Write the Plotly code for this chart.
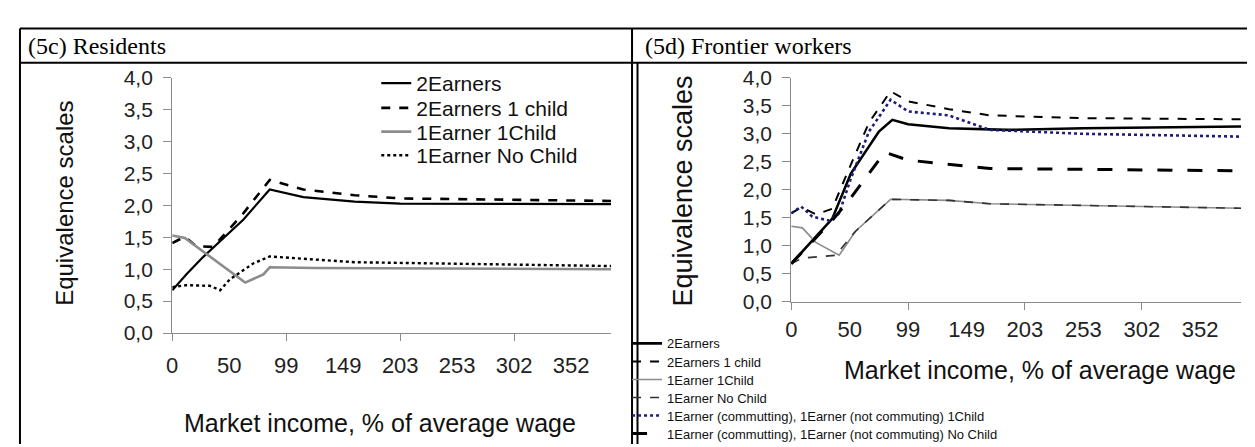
import plotly.graph_objects as go

W, H = 1255, 447

# category axis: step index along the income grid, labels every 10 steps
tick_pos = [0, 10, 20, 30, 40, 50, 60, 70]
tick_txt = ["0", "50", "99", "149", "203", "253", "302", "352"]

# (5c) Residents
res_2e_x = [0, 2.5, 5.4, 8.4, 12.5, 17.1, 23, 32, 40, 77]
res_2e_y = [0.67, 0.92, 1.19, 1.44, 1.78, 2.25, 2.13, 2.06, 2.03, 2.02]
res_2e1c_x = [0, 2.2, 4.2, 7.2, 9, 12.5, 17.1, 23, 32, 40, 77]
res_2e1c_y = [1.41, 1.51, 1.36, 1.35, 1.53, 1.88, 2.40, 2.25, 2.16, 2.11, 2.07]
res_1e1c_x = [0, 2.2, 12.8, 14.5, 16, 17.1, 25, 77]
res_1e1c_y = [1.53, 1.49, 0.79, 0.86, 0.92, 1.03, 1.02, 1.00]
res_1enc_x = [0, 2.5, 6.6, 8.4, 10.1, 14.2, 17.1, 32, 77]
res_1enc_y = [0.72, 0.75, 0.74, 0.67, 0.84, 1.09, 1.20, 1.11, 1.05]

# (5d) Frontier workers
fw_2e_x = [0, 3.5, 7, 10.2, 15, 17.3, 20, 27, 37, 50, 77]
fw_2e_y = [0.68, 1.08, 1.48, 2.29, 3.04, 3.25, 3.17, 3.10, 3.07, 3.10, 3.13]
fw_2e1c_x = [0, 1.7, 4.2, 7, 10.2, 13.3, 17, 20, 27, 34, 50, 77]
fw_2e1c_y = [1.58, 1.69, 1.56, 1.66, 2.45, 3.20, 3.76, 3.58, 3.44, 3.33, 3.28, 3.26]
fw_1e1c_x = [0, 1.9, 4.2, 6.5, 8.2, 11, 17, 27, 34, 77]
fw_1e1c_y = [1.35, 1.32, 1.06, 0.92, 0.83, 1.26, 1.83, 1.81, 1.75, 1.67]
fw_1enc_x = [0, 1.9, 7.6, 11, 17, 27, 34, 77]
fw_1enc_y = [0.68, 0.78, 0.83, 1.26, 1.83, 1.81, 1.75, 1.67]
fw_c1c_x = [0, 1.7, 3.6, 6.5, 8.2, 10.2, 13.3, 17, 20, 27, 34, 50, 77]
fw_c1c_y = [1.58, 1.70, 1.52, 1.45, 1.58, 2.20, 3.04, 3.61, 3.40, 3.33, 3.07, 3.00, 2.95]
fw_cnc_x = [0, 7, 10, 13.3, 16, 20, 34, 77]
fw_cnc_y = [0.68, 1.45, 1.83, 2.29, 2.67, 2.53, 2.38, 2.34]


def px(x):
    return x / W


def py(y):
    return 1 - y / H


fig = go.Figure()
legends = {}
sans_name = "Liberation Sans, Arial"

# left panel, one legend box per entry so the row spacing can follow the original
left = [
    ("2Earners", res_2e_x, res_2e_y, dict(color="black", width=2.2)),
    ("2Earners 1 child", res_2e1c_x, res_2e1c_y, dict(color="black", width=2.6, dash="dash")),
    ("1Earner 1Child", res_1e1c_x, res_1e1c_y, dict(color="#8c8c8c", width=2.6)),
    ("1Earner No Child", res_1enc_x, res_1enc_y, dict(color="black", width=2.4, dash="dot")),
]
left_rows = [67, 93, 118, 143]
for i, (name, xs, ys, ln) in enumerate(left):
    key = "legend" if i == 0 else "legend%d" % (i + 1)
    fig.add_trace(go.Scatter(x=xs, y=ys, name=name, mode="lines", line=ln,
                             xaxis="x", yaxis="y", legend=key))
    legends[key] = dict(x=px(364), y=py(left_rows[i]), xanchor="left", yanchor="middle",
                        bgcolor="rgba(0,0,0,0)", itemwidth=30,
                        font=dict(family=sans_name, size=21, color="#111"))

right = [
    ("2Earners", fw_2e_x, fw_2e_y, dict(color="black", width=2.6)),
    ("2Earners 1 child", fw_2e1c_x, fw_2e1c_y, dict(color="black", width=2, dash="dash")),
    ("1Earner 1Child", fw_1e1c_x, fw_1e1c_y, dict(color="#8c8c8c", width=1.6)),
    ("1Earner No Child", fw_1enc_x, fw_1enc_y, dict(color="#333333", width=1.6, dash="dash")),
    ("1Earner (commutting), 1Earner (not commuting) 1Child", fw_c1c_x, fw_c1c_y,
     dict(color="#1c1c7a", width=2.6, dash="dot")),
    ("1Earner (commutting), 1Earner (not commuting) No Child", fw_cnc_x, fw_cnc_y,
     dict(color="black", width=3, dash="longdash")),
]
right_rows = [341, 360, 379, 398, 417, 436]
for i, (name, xs, ys, ln) in enumerate(right):
    key = "legend%d" % (i + 5)
    fig.add_trace(go.Scatter(x=xs, y=ys, name=name, mode="lines", line=ln,
                             xaxis="x2", yaxis="y2", legend=key))
    legends[key] = dict(x=px(616), y=py(right_rows[i]), xanchor="left", yanchor="middle",
                        bgcolor="rgba(0,0,0,0)", itemwidth=30,
                        font=dict(family=sans_name, size=13, color="#111"))

xcommon = dict(range=[0, 77], tickvals=tick_pos, ticktext=tick_txt, ticks="",
               showline=True, linecolor="#8a8a8a", linewidth=1.3, showgrid=False,
               zeroline=False, tickfont=dict(family=sans_name, size=22, color="#222"),
               minor=dict(tickvals=[0, 20, 40, 60], ticks="outside", ticklen=7,
                          tickcolor="#8a8a8a"))
ycommon = dict(range=[0, 4], dtick=0.5, tickformat=".1f", ticks="outside", ticklen=8,
               tickcolor="#8a8a8a", showline=True, linecolor="#8a8a8a", linewidth=1.3,
               showgrid=False, zeroline=False, ticklabelstandoff=6,
               tickfont=dict(family=sans_name, size=21, color="#222"))

fig.update_layout(
    width=W, height=H, margin=dict(l=0, r=0, t=0, b=0),
    paper_bgcolor="white", plot_bgcolor="white", separators=",.",
    xaxis=dict(domain=[px(159), px(600)], anchor="y", ticklabelstandoff=12, **xcommon),
    yaxis=dict(domain=[py(330), py(61)], anchor="x", **ycommon),
    xaxis2=dict(domain=[px(781), px(1233)], anchor="y2", ticklabelstandoff=8, **xcommon),
    yaxis2=dict(domain=[py(297), py(61)], anchor="x2", **ycommon),
    showlegend=True,
    **legends,
)

# table grid
black = dict(color="black", width=2)
for x0, y0, x1, y1 in [(6, 9, 1253, 9), (6, 45, 1253, 45), (6, 9, 6, 447),
                       (621, 9, 621, 447), (626.5, 45, 626.5, 447), (1253, 9, 1253, 447)]:
    fig.add_shape(type="line", xref="paper", yref="paper",
                  x0=px(x0), y0=py(y0), x1=px(x1), y1=py(y1), line=black)

serif = dict(family="Liberation Serif, Times New Roman", size=24, color="black")


def sans(size):
    return dict(family=sans_name, size=size, color="#111")


notes = [
    (12, 27, "(5c) Residents", serif, 0, "left"),
    (632, 27, "(5d) Frontier workers", serif, 0, "left"),
    (50, 193, "Equivalence scales", sans(24), -90, "center"),
    (672, 180, "Equivalence scales", sans(27), -90, "center"),
    (368, 425, "Market income, % of average wage", sans(25), 0, "center"),
    (1031, 369, "Market income, % of average wage", sans(25), 0, "center"),
]
for x, y, t, f, ang, xa in notes:
    fig.add_annotation(x=px(x), y=py(y), xref="paper", yref="paper", text=t,
                       showarrow=False, font=f, textangle=ang, xanchor=xa,
                       yanchor="middle")

fig.write_html("out.html")
